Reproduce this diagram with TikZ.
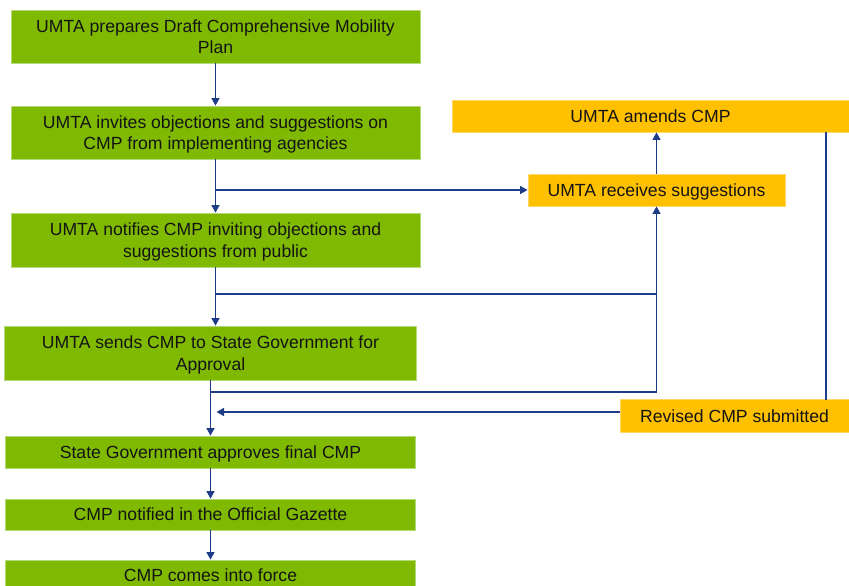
\documentclass[tikz,border=0pt]{standalone}
\usepackage{fontspec}
\setmainfont{Liberation Sans}
\usetikzlibrary{arrows.meta,calc}
\definecolor{gfill}{HTML}{7FBA00}
\definecolor{gedge}{HTML}{B5D97A}
\definecolor{ofill}{HTML}{FFC000}
\definecolor{oedge}{HTML}{FFD966}
\definecolor{lnk}{HTML}{1F3C88}
\definecolor{txt}{HTML}{141414}
\tikzset{
  gbox/.style={rectangle, fill=gfill, draw=gedge, line width=0.8pt, inner sep=0pt, align=center, text=txt,
    text depth=0pt, font=\fontsize{17.6}{21.5}\selectfont},
  obox/.style={rectangle, fill=ofill, draw=oedge, line width=0.8pt, inner sep=0pt, align=center, text=txt,
    text depth=0pt, font=\fontsize{17.6}{21.5}\selectfont},
  link/.style={draw=lnk, line width=1.3pt},
  arr/.style={link, -{Triangle[length=7.5pt,width=8pt]}}
}
\begin{document}
\begin{tikzpicture}[x=1pt,y=-1pt]
\useasboundingbox (0,0) rectangle (849,586);
\clip (0,0) rectangle (849,586);
% green column
\node[gbox, minimum width=409pt, minimum height=53pt] (b1) at (215.5,36.5) {UMTA prepares Draft Comprehensive Mobility\\Plan};
\node[gbox, minimum width=409pt, minimum height=53pt] (b2) at (215.5,132.5) {UMTA invites objections and suggestions on\\CMP from implementing agencies};
\node[gbox, minimum width=409pt, minimum height=54pt] (b3) at (215.5,240) {UMTA notifies CMP inviting objections and\\suggestions from public};
\node[gbox, minimum width=412pt, minimum height=54pt] (b4) at (210.5,353) {UMTA sends CMP to State Government for\\Approval};
\node[gbox, minimum width=410pt, minimum height=32pt] (b5) at (210.5,452) {State Government approves final CMP};
\node[gbox, minimum width=410pt, minimum height=31pt] (b6) at (210.5,514.5) {CMP notified in the Official Gazette};
\node[gbox, minimum width=410pt, minimum height=31pt] (b7) at (210.5,575.5) {CMP comes into force};
% orange boxes
\node[obox, minimum width=397pt, minimum height=32pt] (b8) at (650.5,116) {UMTA amends CMP};
\node[obox, minimum width=257pt, minimum height=32pt] (b9) at (656.5,190) {UMTA receives suggestions};
\node[obox, minimum width=229pt, minimum height=33pt] (b10) at (734.5,416) {Revised CMP submitted};
% junctions
\coordinate (j1) at (216,190);
\coordinate (j2) at (216,294);
\coordinate (j3) at (210.5,392);
\coordinate (j4) at (656.5,294);
\coordinate (r1) at (826,132);
\coordinate (r2) at (826,400);
\coordinate (s1) at (620,412);
\coordinate (t1) at (216.5,412);
% connectors
\draw[arr] (b1) -- (b2);
\draw[arr] (b2) -- (b3);
\draw[arr] (j1) -- (b9.west);
\draw[arr] (b3.south) -- (b3.south |- b4.north);
\draw[arr] (j2) -| (b9.south);
\draw[arr] (b4) -- (b5);
\draw[link] (j3) -| (j4);
\draw[arr] (b9.north) -- (b9.north |- b8.south);
\draw[link] (r1) -- (r2);
\draw[arr] (s1) -- (t1);
\draw[arr] (b5) -- (b6);
\draw[arr] (b6.south) -- (b7.north);
\end{tikzpicture}
\end{document}
